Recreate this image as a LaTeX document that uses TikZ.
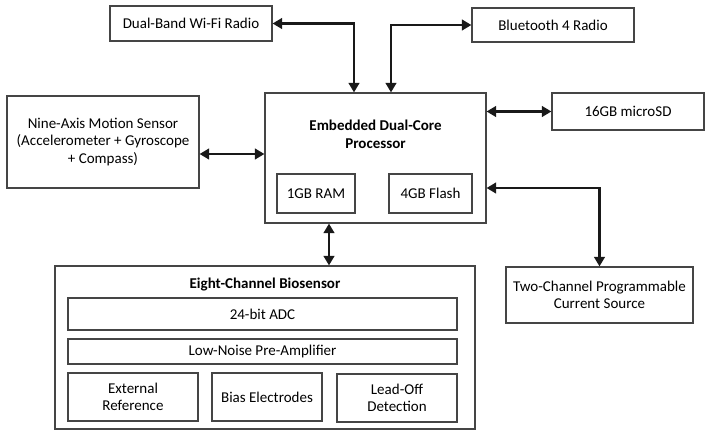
\documentclass[tikz,border=0pt]{standalone}
\usepackage{fontspec}
\setmainfont{Carlito}
\usetikzlibrary{arrows.meta,calc}
\definecolor{edge}{HTML}{454545}
\tikzset{
  box/.style={draw=edge, line width=1.1pt, inner sep=0pt, align=center,
    font=\fontsize{15}{17.5}\selectfont, text=black},
  lbl/.style={inner sep=0pt, align=center, font=\fontsize{15}{17.5}\selectfont\bfseries, text=black},
  arr/.style={line width=2.8pt, black!90,
    {Triangle[length=9.5pt,width=10.5pt]}-{Triangle[length=9.5pt,width=10.5pt]}},
}
\begin{document}
\begin{tikzpicture}[x=1pt,y=-1pt]
\useasboundingbox (0,0) rectangle (705,431);
% top radios
\node[box, minimum width=162pt, minimum height=35pt] (wifi) at (191,23.5) {Dual-Band Wi-Fi Radio};
\node[box, minimum width=162pt, minimum height=34pt] (bt) at (553,25) {Bluetooth 4 Radio};
% processor
\node[box, minimum width=221pt, minimum height=130pt] (proc) at (375.5,158) {};
\node[lbl] (proctitle) at (375.5,134.5) {Embedded Dual-Core\\Processor};
\node[box, minimum width=78pt, minimum height=39pt] (ram) at (316,193.5) {1GB RAM};
\node[box, minimum width=83pt, minimum height=39pt] (flash) at (430.5,193.5) {4GB Flash};
% side boxes
\node[box, minimum width=192pt, minimum height=92pt] (nine) at (103,142) {Nine-Axis Motion Sensor\\(Accelerometer + Gyroscope\\+ Compass)};
\node[box, minimum width=152pt, minimum height=37pt] (sd) at (628,111.5) {16GB microSD};
\node[box, minimum width=187pt, minimum height=56pt] (two) at (599.5,295) {Two-Channel Programmable\\Current Source};
% biosensor
\node[box, minimum width=420pt, minimum height=163pt] (bio) at (265,347.5) {};
\node[lbl] (biotitle) at (265,285) {Eight-Channel Biosensor};
\node[box, minimum width=389pt, minimum height=32pt] (adc) at (262.5,314) {24-bit ADC};
\node[box, minimum width=389pt, minimum height=25pt] (lna) at (262.5,351.5) {Low-Noise Pre-Amplifier};
\node[box, minimum width=130pt, minimum height=48pt] (ext) at (133,397) {External\\Reference};
\node[box, minimum width=110pt, minimum height=48pt] (bias) at (267,397) {Bias Electrodes};
\node[box, minimum width=120pt, minimum height=48pt] (lead) at (397,398) {Lead-Off\\Detection};
% connectors
\draw[arr] (wifi.east) -| ([xshift=-21.5pt]proc.north);
\draw[arr] (bt.west) -| ([xshift=15.5pt]proc.north);
\draw[arr] ([yshift=-12pt]nine.east) -- ([yshift=4pt]proc.west);
\draw[arr] (proc.east |- sd.west) -- (sd.west);
\draw[arr] ([yshift=-30pt]proc.east) -| (two.north);
\coordinate (pb) at ([xshift=-46.5pt]proc.south);
\draw[arr] (pb) -- (pb |- bio.north);
\end{tikzpicture}
\end{document}
